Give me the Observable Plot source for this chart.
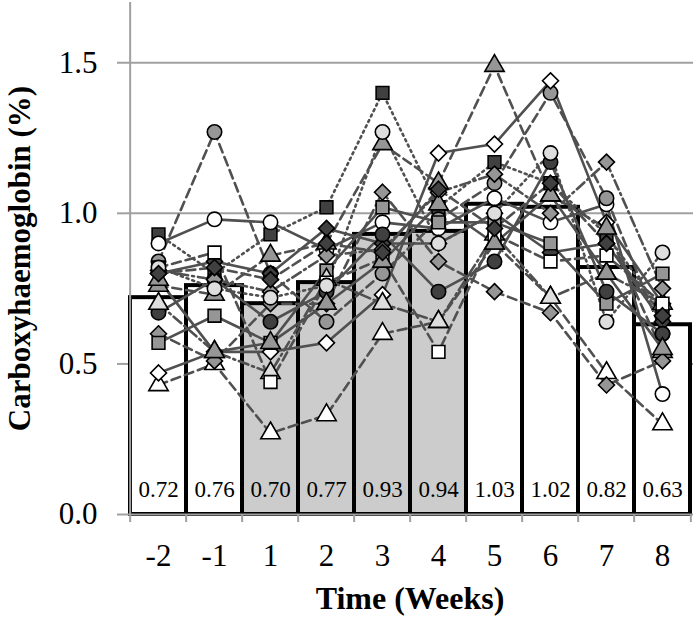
<!DOCTYPE html>
<html>
<head>
<meta charset="utf-8">
<script src="https://cdn.jsdelivr.net/npm/d3@7"></script>
<script src="https://cdn.jsdelivr.net/npm/@observablehq/plot@0.6"></script>
<style>
  html, body { margin: 0; padding: 0; background: white; }
</style>
</head>
<body>
<div id="chart"></div>
<script>
// ---- Data ----
const weeks = ["-2", "-1", "1", "2", "3", "4", "5", "6", "7", "8"];
const meanValues = [0.72, 0.76, 0.70, 0.77, 0.93, 0.94, 1.03, 1.02, 0.82, 0.63];
const phase = ["pre", "pre", "on", "on", "on", "on", "post", "post", "post", "post"];

const subjectA = [0.93, 0.80, 0.93, 1.02, 1.40, 1.02, 1.17, 1.10, 0.93, 0.67];
const subjectB = [0.90, 0.98, 0.97, 0.88, 0.97, 0.95, 1.05, 0.97, 1.03, 0.40];
const subjectC = [0.84, 1.27, 0.80, 0.64, 0.80, 0.98, 1.10, 1.40, 1.05, 0.60];
const subjectD = [0.43, 0.50, 0.27, 0.33, 0.60, 0.64, 0.90, 0.72, 0.47, 0.30];
const subjectE = [0.47, 0.54, 0.54, 0.57, 0.73, 1.20, 1.23, 1.44, 0.97, 0.70];
const subjectF = [0.76, 0.73, 0.86, 0.90, 1.23, 1.10, 1.49, 1.06, 0.95, 0.54];
const subjectG = [0.80, 0.84, 0.80, 0.95, 0.90, 0.90, 1.00, 0.87, 0.90, 0.64];
const subjectH = [0.60, 0.51, 0.70, 0.70, 1.07, 0.84, 0.74, 0.67, 0.43, 0.51];
const subjectI = [0.57, 0.66, 0.57, 0.81, 1.02, 0.97, 0.97, 0.90, 0.70, 0.80];
const subjectJ = [0.67, 0.78, 0.64, 0.74, 0.93, 0.74, 0.84, 1.17, 0.74, 0.60];
const subjectK = [0.70, 0.54, 0.47, 0.78, 0.70, 0.64, 0.93, 0.72, 0.80, 0.70];
const subjectL = [0.82, 0.87, 0.44, 0.77, 0.85, 0.54, 0.93, 0.84, 0.86, 0.70];
const subjectM = [0.81, 0.78, 0.74, 0.86, 0.88, 1.07, 1.13, 1.00, 1.17, 0.75];
const subjectN = [0.82, 0.75, 0.72, 0.76, 1.27, 0.90, 1.00, 1.20, 0.64, 0.87];
const subjectO = [0.78, 0.54, 0.57, 0.70, 0.84, 1.03, 0.90, 1.06, 0.80, 0.55];
const subjectP = [0.80, 0.82, 0.78, 0.90, 0.87, 1.08, 0.95, 1.10, 0.90, 0.66];

const subjectNames = ["A","B","C","D","E","F","G","H","I","J","K","L","M","N","O","P"];
const subjectSeries = [subjectA, subjectB, subjectC, subjectD, subjectE, subjectF, subjectG, subjectH,
                       subjectI, subjectJ, subjectK, subjectL, subjectM, subjectN, subjectO, subjectP];

// ---- Styles (kept apart from data) ----
const WHITE = "#ffffff", LIGHT = "#dedede", GRAY = "#969696", DARK = "#404040";
const styleOf = {
  A: {symbol: "square",   fill: DARK,  dash: "dot"},
  B: {symbol: "circle",   fill: WHITE, dash: "solid"},
  C: {symbol: "circle",   fill: GRAY,  dash: "dash"},
  D: {symbol: "triangle", fill: WHITE, dash: "dash"},
  E: {symbol: "diamond2", fill: WHITE, dash: "solid"},
  F: {symbol: "triangle", fill: GRAY,  dash: "dash"},
  G: {symbol: "diamond2", fill: DARK,  dash: "solid"},
  H: {symbol: "diamond2", fill: GRAY,  dash: "dash"},
  I: {symbol: "square",   fill: GRAY,  dash: "solid"},
  J: {symbol: "circle",   fill: DARK,  dash: "solid"},
  K: {symbol: "triangle", fill: LIGHT, dash: "dashdot"},
  L: {symbol: "square",   fill: WHITE, dash: "dash"},
  M: {symbol: "diamond2", fill: GRAY,  dash: "dashdot"},
  N: {symbol: "circle",   fill: LIGHT, dash: "dot"},
  O: {symbol: "triangle", fill: GRAY,  dash: "solid"},
  P: {symbol: "diamond2", fill: DARK,  dash: "dash"}
};
const dashArray = {solid: null, dash: "9,5", dot: "2,4", dashdot: "10,4,2,4"};

// ---- Tables built from the arrays ----
const barRows = weeks.map((w, i) => ({week: w, mean: meanValues[i], phase: phase[i]}));
const pointRows = [];
subjectNames.forEach((name, s) => {
  subjectSeries[s].forEach((v, i) => {
    pointRows.push({id: name, week: weeks[i], value: v,
      symbol: styleOf[name].symbol, fill: styleOf[name].fill, dash: styleOf[name].dash});
  });
});

const W = 700, H = 623, ML = 126, MR = 7, MT = 2, MB = 109;
const bw = (W - ML - MR) / weeks.length;
const AXIS_GRAY = "#a0a0a0";

const lineMarks = Object.keys(dashArray).map(k =>
  Plot.line(pointRows.filter(d => d.dash === k), {
    x: "week", y: "value", z: "id",
    stroke: "#505050", strokeWidth: 2.6,
    strokeDasharray: dashArray[k] || undefined
  })
);

const chart = Plot.plot({
  width: W, height: H,
  marginLeft: ML, marginRight: MR, marginTop: MT, marginBottom: MB,
  style: {fontFamily: "'Liberation Serif', 'Times New Roman', serif", fontSize: "24px", color: "black", background: "white"},
  x: {type: "band", domain: weeks, padding: 0, label: null},
  y: {domain: [0, 1.7], label: null},
  marks: [
    Plot.gridY([0.5, 1.0, 1.5], {stroke: AXIS_GRAY, strokeOpacity: 1, strokeWidth: 2}),
    Plot.barY(barRows, {x: "week", y: "mean",
      fill: d => d.phase === "on" ? "#cccccc" : "#ffffff",
      stroke: "black", strokeWidth: 4}),
    Plot.text(barRows, {x: "week", y: 0, text: d => d.mean.toFixed(2), dy: -25, fontSize: 23}),
    ...lineMarks,
    Plot.dot(pointRows, {x: "week", y: "value", symbol: "symbol", fill: "fill",
      stroke: "black", strokeWidth: 1.6, r: 7.2}),
    Plot.ruleY([0], {stroke: AXIS_GRAY, strokeWidth: 2}),
    Plot.ruleX([weeks[0]], {dx: -bw / 2, stroke: AXIS_GRAY, strokeWidth: 2}),
    Plot.ruleX(weeks, {x: d => d, y1: 0, y2: 0, insetBottom: -8, dx: -bw / 2, stroke: AXIS_GRAY, strokeWidth: 2}),
    Plot.ruleX([weeks[weeks.length - 1]], {x: d => d, y1: 0, y2: 0, insetBottom: -8, dx: bw / 2, stroke: AXIS_GRAY, strokeWidth: 2}),
    Plot.axisY({ticks: [0, 0.5, 1.0, 1.5], tickFormat: d => d.toFixed(1), tickSize: 9, tickPadding: 20,
      stroke: AXIS_GRAY, strokeWidth: 2, fontSize: 31, label: null}),
    Plot.axisX({tickSize: 0, tickPadding: 29, fontSize: 31, label: null}),
    Plot.text(["Carboxyhaemoglobin (%)"], {frameAnchor: "left", textAnchor: "middle", rotate: -90, dx: -106,
      fontWeight: "bold", fontSize: 31}),
    Plot.text(["Time (Weeks)"], {frameAnchor: "bottom", dy: 94, fontWeight: "bold", fontSize: 32})
  ]
});
document.getElementById("chart").appendChild(chart);
</script>
</body>
</html>
